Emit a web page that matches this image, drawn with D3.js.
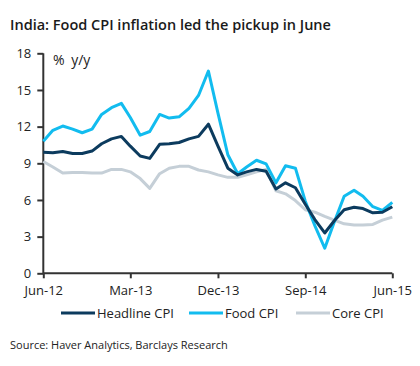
<!DOCTYPE html>
<html><head><meta charset="utf-8">
<script src="https://cdn.jsdelivr.net/npm/d3@7"></script>
<style>body{margin:0;background:#fff}svg{display:block}text{font-family:"Open Sans",sans-serif}</style>
</head><body><div id="chart"></div>
<script>
const months = d3.range(37).map(i => new Date(2012, 5 + i, 1));
const tickLabels = ["Jun-12", "Mar-13", "Dec-13", "Sep-14", "Jun-15"];
const tickDates = [new Date(2012,5,1), new Date(2013,2,1), new Date(2013,11,1), new Date(2014,8,1), new Date(2015,5,1)];
const yTicks = [0, 3, 6, 9, 12, 15, 18];
const headline = [9.9, 9.87, 9.97, 9.8, 9.8, 10.0, 10.6, 11.0, 11.2, 10.4, 9.6, 9.4, 10.55, 10.6, 10.7, 11.0, 11.2, 12.2, 10.4, 8.6, 8.05, 8.3, 8.5, 8.35, 6.9, 7.4, 7.0, 5.65, 4.4, 3.3, 4.3, 5.2, 5.4, 5.3, 4.95, 5.0, 5.45];
const food = [10.8, 11.7, 12.05, 11.8, 11.5, 11.8, 13.0, 13.55, 13.9, 12.75, 11.3, 11.6, 13.0, 12.7, 12.8, 13.5, 14.55, 16.55, 13.1, 9.7, 8.15, 8.7, 9.25, 8.95, 7.4, 8.8, 8.6, 5.9, 3.9, 2.05, 4.2, 6.3, 6.8, 6.3, 5.45, 5.15, 5.8];
const core = [9.15, 8.7, 8.2, 8.25, 8.25, 8.2, 8.2, 8.5, 8.5, 8.3, 7.75, 6.95, 8.15, 8.6, 8.75, 8.75, 8.45, 8.3, 8.05, 7.85, 7.85, 8.05, 8.3, 8.5, 6.75, 6.5, 5.95, 5.2, 5.0, 4.65, 4.35, 4.05, 3.95, 3.95, 4.0, 4.35, 4.6];
const seriesNames = ["Headline CPI", "Food CPI", "Core CPI"];
const colors = ["#0c3b5e", "#12bcef", "#c5cfd7"];

const W = 420, H = 366;
const svg = d3.select("#chart").append("svg").attr("width", W).attr("height", H);
const x = d3.scaleTime().domain([months[0], months[36]]).range([43.3, 392.3]);
const y = d3.scaleLinear().domain([0, 18]).range([273.3, 53.3]);

svg.append("text").attr("x", 10).attr("y", 30).attr("font-size", 14.5).attr("font-weight", 600)
  .attr("fill", "#1a1a1a").text("India: Food CPI inflation led the pickup in June");

const yAxis = svg.append("g").attr("transform", "translate(43.3,0)")
  .call(d3.axisLeft(y).tickValues(yTicks).tickSize(6).tickPadding(6).tickFormat(d3.format("d")));
const xAxis = svg.append("g").attr("transform", "translate(0,273.3)")
  .call(d3.axisBottom(x).tickValues(tickDates).tickSize(5).tickPadding(7).tickFormat((d, i) => tickLabels[i]));
[yAxis, xAxis].forEach(g => {
  g.select(".domain").attr("stroke", "#333").attr("stroke-width", 2);
  g.selectAll(".tick line").attr("stroke", "#333").attr("stroke-width", 2);
  g.selectAll(".tick text").attr("fill", "#222").attr("font-size", 13).attr("font-family", "Open Sans");
});
yAxis.select(".domain").attr("d", "M0,53.3V273.3");
xAxis.select(".domain").attr("d", "M43.3,0H392.3");

svg.append("text").attr("x", 53).attr("y", 65).attr("font-size", 14).attr("word-spacing", 3)
  .attr("fill", "#222").text("% y/y");

const line = d3.line().x((d, i) => x(months[i])).y(d => y(d));
[core, food, headline].forEach((s, k) => {
  const idx = 2 - k;
  svg.append("path").datum(s).attr("d", line).attr("fill", "none")
    .attr("stroke", colors[idx]).attr("stroke-width", 3).attr("stroke-linejoin", "round");
});

const legX = [61, 189, 296];
seriesNames.forEach((n, i) => {
  svg.append("line").attr("x1", legX[i]).attr("x2", legX[i] + 34).attr("y1", 313).attr("y2", 313)
    .attr("stroke", colors[i]).attr("stroke-width", 3);
  svg.append("text").attr("x", legX[i] + 36).attr("y", 318).attr("font-size", 13).attr("fill", "#222").text(n);
});

svg.append("text").attr("x", 10).attr("y", 349).attr("font-size", 11).attr("fill", "#222")
  .text("Source: Haver Analytics, Barclays Research");
</script></body></html>
